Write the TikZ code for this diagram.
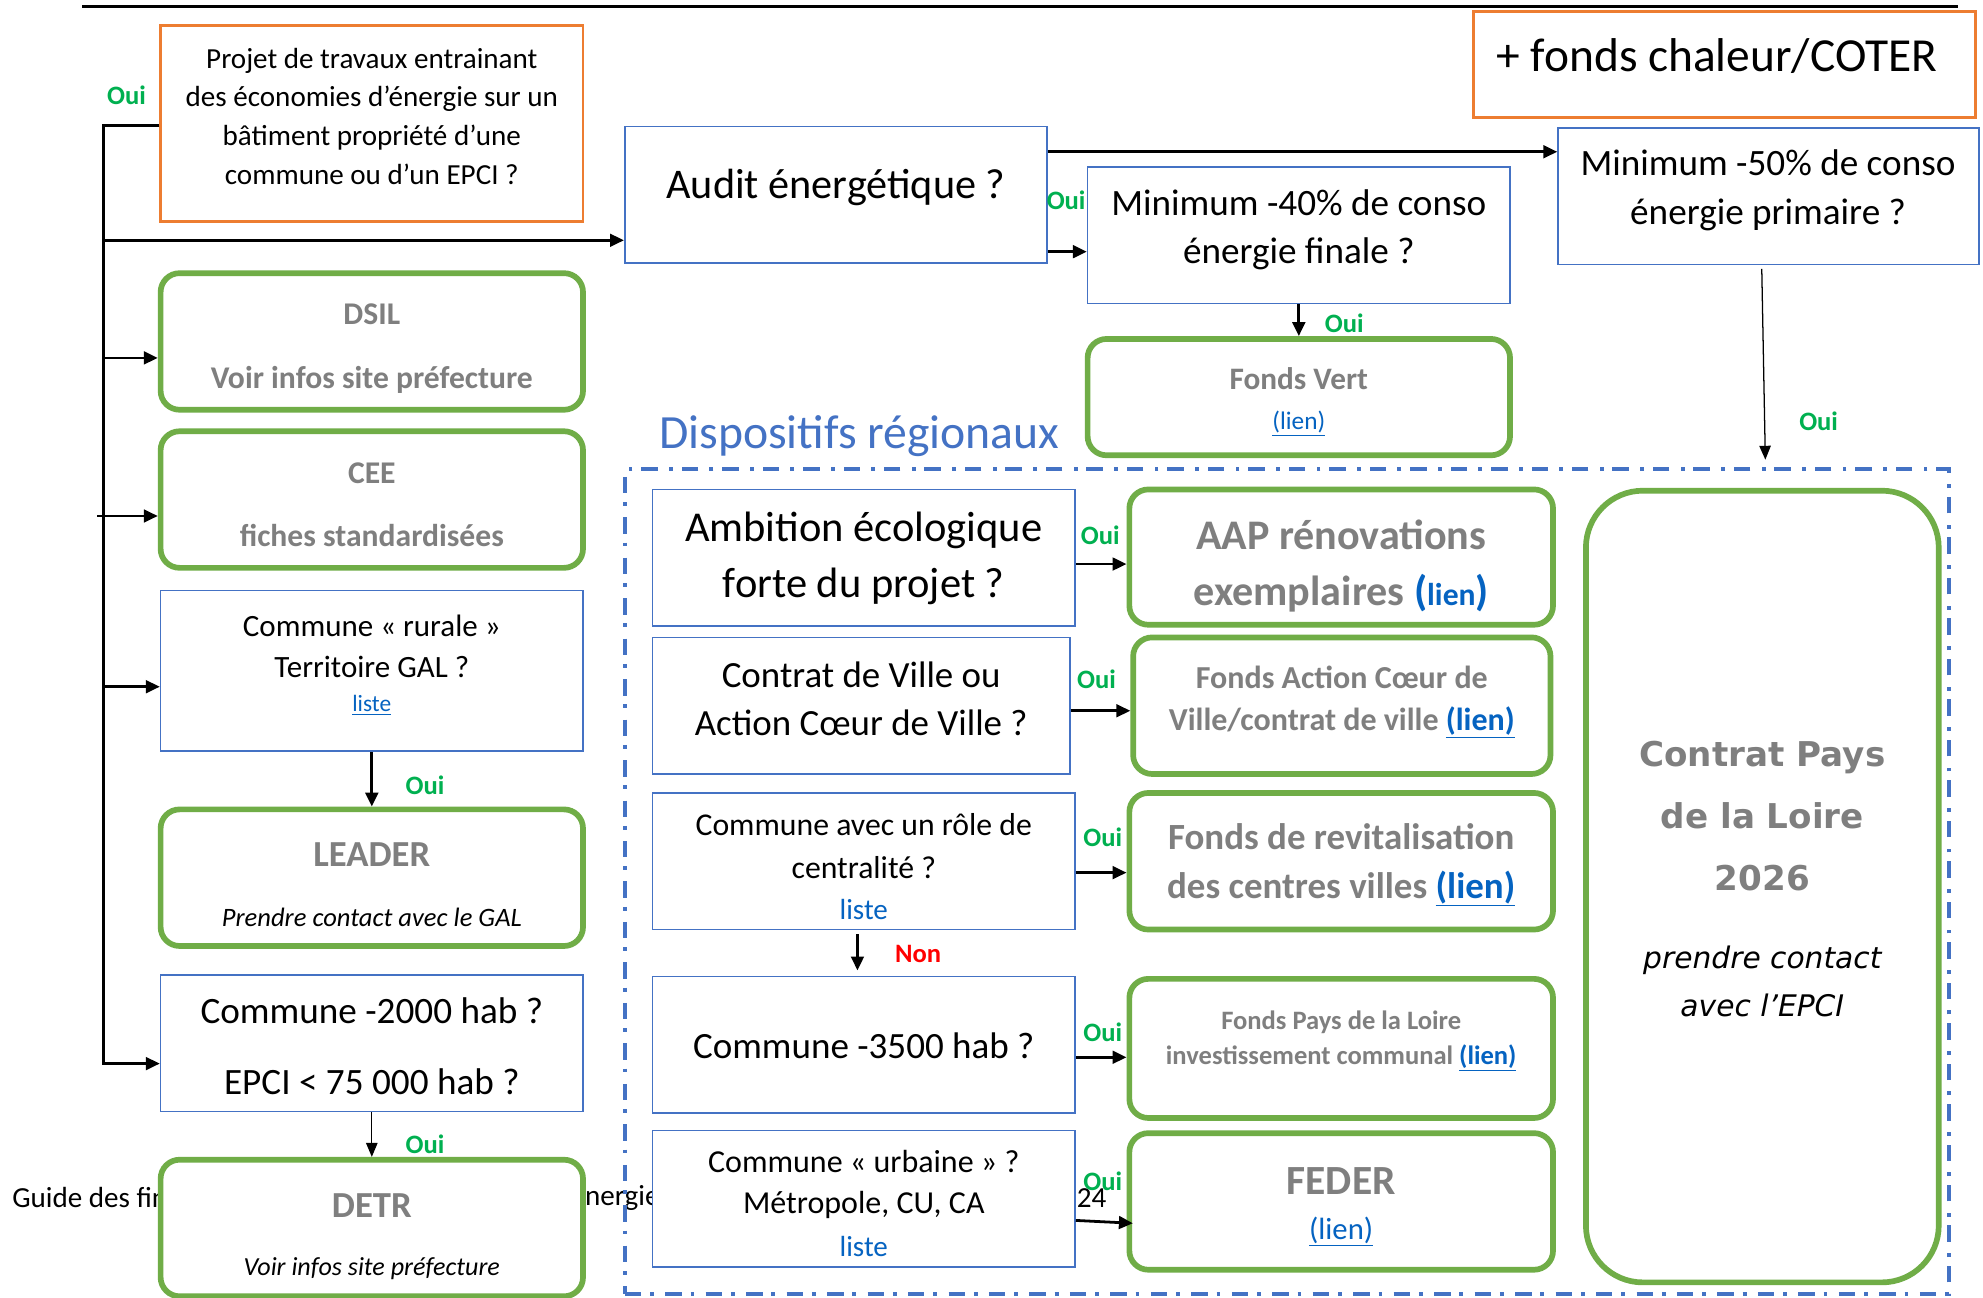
\documentclass[tikz,border=0pt]{standalone}
\usepackage{fontspec}
\setmainfont{Carlito}
\newfontfamily\dejavu{DejaVu Sans}
\usetikzlibrary{arrows.meta}
\definecolor{boxblue}{HTML}{4472C4}
\definecolor{orangec}{HTML}{ED7D31}
\definecolor{greenc}{HTML}{70AD47}
\definecolor{graytxt}{HTML}{7F7F7F}
\definecolor{linkc}{HTML}{0563C1}
\definecolor{ouig}{HTML}{00B050}
\newcommand\myfs[2]{\fontsize{#1}{#2}\selectfont}
\begin{document}
\begin{tikzpicture}[x=1pt,y=-1pt,
  qbox/.style={draw=boxblue, line width=1.3pt, fill=white, inner sep=0pt},
  obox/.style={draw=orangec, line width=2pt, fill=white, inner sep=0pt},
  gbox/.style={draw=greenc, line width=4.5pt, rounded corners=15pt, fill=white, inner sep=0pt},
  conn/.style={line width=2.2pt, -{Triangle[length=11pt,width=10pt]}},
  thinconn/.style={line width=1pt, -{Triangle[length=11pt,width=9pt]}},
  oui/.style={text=ouig, font=\bfseries\myfs{21}{25}, inner sep=0pt},
  txt/.style={align=center, inner sep=0pt},
  gtxt/.style={align=center, inner sep=0pt, text=graytxt},
  sz/.style 2 args={minimum width=#1pt, minimum height=#2pt}]
\useasboundingbox (0,0) rectangle (1568,1026);
\fill[white] (0,0) rectangle (1568,1026);

% footer text (partly hidden by boxes)
\node[anchor=west, inner sep=0pt, font=\myfs{23}{27}] (foot1) at (9.5,947) {Guide des financements};
\node[anchor=west, inner sep=0pt, font=\myfs{23}{27}] (foot2) at (451,947) {énergie};
\node[anchor=east, inner sep=0pt, font=\myfs{23}{27}] (foot3) at (875,947) {2024};

% top rule
\coordinate (ruleL) at (65,5);
\coordinate (ruleR) at (1548,5);
\draw[line width=2pt] (ruleL) -- (ruleR);

% regional frame
\node[draw=boxblue, line width=3pt, dash pattern=on 13pt off 7pt on 3pt off 9pt, sz={1047}{652}, inner sep=0pt] (region) at (1017.5,697) {};
\node[anchor=west, inner sep=0pt, text=boxblue, font=\myfs{37.7}{44}] (regtitle) at (521,345) {Dispositifs régionaux};

% boxes
\node[obox, sz={334}{155}] (projet) at (294,97.5) {};
\node[gbox, sz={334}{108}] (dsil) at (294,270) {};
\node[gbox, sz={334}{108}] (cee) at (294,395) {};
\node[qbox, sz={334}{127}] (rurale) at (294,530.5) {};
\node[gbox, sz={334}{108}] (leader) at (294,694) {};
\node[qbox, sz={334}{108}] (c2000) at (294,825) {};
\node[gbox, sz={334}{108}] (detr) at (294,971) {};
\node[qbox, sz={334}{108}] (audit) at (661,154) {};
\node[qbox, sz={334}{108}] (min40) at (1027,186) {};
\node[qbox, sz={333}{108}] (min50) at (1398.5,155) {};
\node[obox, sz={397}{84}] (coter) at (1363.5,51) {};
\node[gbox, sz={334}{92}] (fvert) at (1027,314) {};
\node[qbox, sz={334}{108}] (ambition) at (683,441) {};
\node[gbox, sz={335}{107}] (aap) at (1060.5,440.5) {};
\node[qbox, sz={330}{108}] (cville) at (681,558) {};
\node[gbox, sz={330}{108}] (faction) at (1061,558) {};
\node[qbox, sz={334}{108}] (centr) at (683,681) {};
\node[gbox, sz={335}{108}] (revit) at (1060.5,681) {};
\node[qbox, sz={334}{108}] (c3500) at (683,826) {};
\node[gbox, sz={335}{110}] (fpdl) at (1060.5,829) {};
\node[qbox, sz={334}{108}] (urbaine) at (683,948) {};
\node[gbox, sz={335}{108}] (feder) at (1060.5,950) {};
\node[gbox, rounded corners=45pt, sz={279}{626}] (cpdl) at (1393.5,701) {};

% texts
\node[txt, font=\myfs{23}{30.7}] (tprojet) at (294,92) {Projet de travaux entrainant\\des économies d’énergie sur un\\bâtiment propriété d’une\\commune ou d’un EPCI ?};
\node[gtxt, font=\bfseries\myfs{25}{51}] (tdsil) at (294,275.5) {DSIL\\Voir infos site préfecture};
\node[gtxt, font=\bfseries\myfs{25}{50}] (tcee) at (294,399) {CEE\\fiches standardisées};
\node[txt, font=\myfs{24.5}{33}] (trurale) at (294,511) {Commune «~rurale~»\\Territoire GAL ?};
\node[txt, text=linkc, font=\myfs{18.5}{22}] (lrurale) at (294,557.5) {\underline{liste}};
\node[gtxt, font=\bfseries\myfs{29}{34}] (tleader) at (294,676) {LEADER};
\node[txt, font=\itshape\myfs{21}{25}] (tleader2) at (294,725) {Prendre contact avec le GAL};
\node[txt, font=\myfs{29.4}{56}] (tc2000) at (294,827.5) {Commune -2000 hab ?\\EPCI < 75~000 hab ?};
\node[gtxt, font=\bfseries\myfs{29}{34}] (tdetr) at (294,953) {DETR};
\node[txt, font=\itshape\myfs{20.6}{25}] (tdetr2) at (294,1003.5) {Voir infos site préfecture};
\node[txt, font=\myfs{33.4}{40}] (taudit) at (661,148) {Audit énergétique ?};
\node[txt, font=\myfs{29.4}{38}] (tmin40) at (1027,181.5) {Minimum -40\% de conso\\énergie finale ?};
\node[txt, font=\myfs{29.4}{39}] (tmin50) at (1398,150.5) {Minimum -50\% de conso\\énergie primaire ?};
\node[txt, font=\myfs{37.5}{44}] (tcoter) at (1357.5,44.5) {+ fonds chaleur/COTER};
\node[gtxt, font=\bfseries\myfs{24.7}{30}] (tfvert) at (1027,299.5) {Fonds Vert};
\node[txt, text=linkc, font=\myfs{20}{24}] (lfvert) at (1027,335) {\underline{(lien)}};
\node[txt, font=\myfs{33.6}{45}] (tambition) at (683,441.5) {Ambition écologique\\forte du projet ?};
\node[gtxt, font=\bfseries\myfs{33.3}{44}] (taap) at (1060.5,447.5) {AAP rénovations\\exemplaires {\color{linkc}({\myfs{25}{30}lien})}};
\node[txt, font=\myfs{29.2}{38}] (tcville) at (681,552.5) {Contrat de Ville ou\\Action Cœur de Ville ?};
\node[gtxt, font=\bfseries\myfs{25.3}{33}] (tfaction) at (1061,555) {Fonds Action Cœur de\\Ville/contrat de ville {\color{linkc}\underline{(lien)}}};
\node[txt, font=\myfs{25.1}{34}] (tcentr) at (683,669) {Commune avec un rôle de\\centralité ?};
\node[txt, text=linkc, font=\myfs{23}{27}] (lcentr) at (683,719) {liste};
\node[gtxt, font=\bfseries\myfs{29.2}{38}] (trevit) at (1060.5,684) {Fonds de revitalisation\\des centres villes {\color{linkc}\underline{(lien)}}};
\node[txt, font=\myfs{29.3}{35}] (tc3500) at (683,827) {Commune -3500 hab ?};
\node[gtxt, font=\bfseries\myfs{21}{28}] (tfpdl) at (1060.5,823) {Fonds Pays de la Loire\\investissement communal {\color{linkc}\underline{(lien)}}};
\node[txt, font=\myfs{25.3}{33}] (turbaine) at (683,936.5) {Commune «~urbaine~» ?\\Métropole, CU, CA};
\node[txt, text=linkc, font=\myfs{23}{27}] (lurbaine) at (683,986) {liste};
\node[gtxt, font=\bfseries\myfs{32.8}{38}] (tfeder) at (1060.5,934) {FEDER};
\node[txt, text=linkc, font=\myfs{24.3}{28}] (lfeder) at (1060.5,974) {\underline{(lien)}};
\node[gtxt, font=\dejavu\bfseries\myfs{27}{49}] (tcpdl) at (1393.5,645) {Contrat Pays\\de la Loire\\2026};
\node[txt, font=\dejavu\itshape\myfs{23.5}{38}] (tcpdl2) at (1393.5,776) {prendre contact\\avec l’EPCI};

% connectors
\coordinate (trunkTop) at (82,99);
\coordinate (trunkBot) at (82,841);
\draw[conn] (projet.west |- trunkTop) -- (trunkTop) -- (trunkBot) -- (c2000.west |- trunkBot);
\draw[conn] (trunkTop |- 0,190) -- (audit.west |- 0,190);
\draw[conn] (trunkTop |- 0,283) -- (dsil.west |- 0,283);
\draw[conn, shorten <=-5pt] (trunkTop |- 0,408) -- (cee.west |- 0,408);
\draw[conn] (trunkTop |- 0,543) -- (rurale.west |- 0,543);
\draw[conn] (rurale.south) -- (leader.north);
\draw[thinconn] (c2000.south) -- (detr.north);
\draw[conn] (audit.east |- 0,199) -- (min40.west |- 0,199);
\draw[conn] (audit.east |- 0,120) -- (min50.west |- 0,120);
\draw[conn] (min40.south) -- (fvert.north);
\draw[thinconn, shorten <=3pt, shorten >=6pt] (min50.south -| 1393,0) -- (region.north -| 1396,0);
\draw[conn] (ambition.east |- 0,446) -- (aap.west |- 0,446);
\draw[conn] (cville.east |- 0,562) -- (faction.west |- 0,562);
\draw[conn] (centr.east |- 0,690) -- (revit.west |- 0,690);
\draw[conn, shorten <=3pt, shorten >=4pt] (centr.south -| 678,0) -- (c3500.north -| 678,0);
\draw[conn] (c3500.east |- 0,836) -- (fpdl.west |- 0,836);
\draw[conn, shorten >=-5pt] (urbaine.east |- 0,965) -- (feder.west |- 0,967);

% labels
\node[oui] (o1) at (100,75) {Oui};
\node[oui] (o2) at (843,158) {Oui};
\node[oui] (o3) at (1063,256) {Oui};
\node[oui] (o4) at (1438,333) {Oui};
\node[oui] (o5) at (336,621) {Oui};
\node[oui] (o6) at (336,905) {Oui};
\node[oui] (o7) at (870,423) {Oui};
\node[oui] (o8) at (867,537) {Oui};
\node[oui] (o9) at (872,662) {Oui};
\node[oui] (o10) at (872,816) {Oui};
\node[oui] (o11) at (872,934) {Oui};
\node[oui, text=red] (non) at (726,754) {Non};
\end{tikzpicture}
\end{document}
